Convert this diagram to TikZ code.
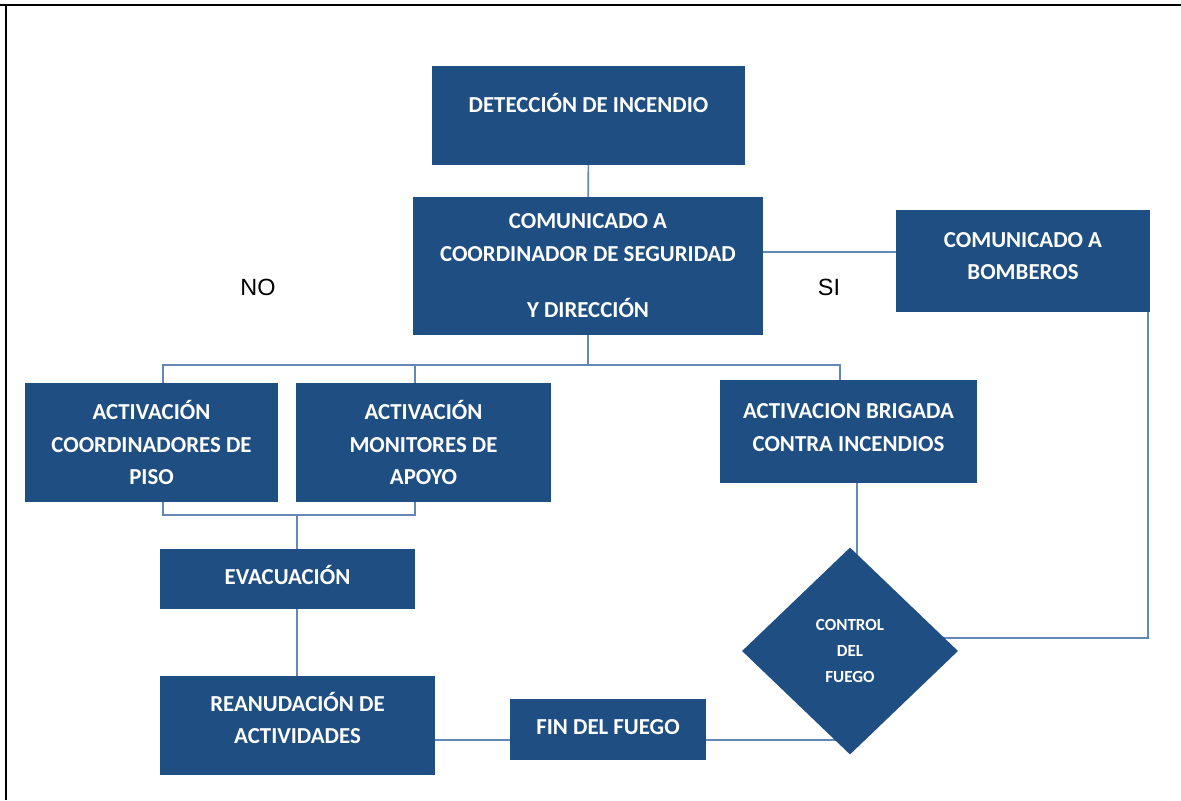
\documentclass[tikz,border=0pt]{standalone}
\usepackage{fontspec}
\setmainfont{Carlito}
\newfontfamily\arialfont{Liberation Sans}
\usetikzlibrary{shapes.geometric,backgrounds}
\definecolor{boxblue}{RGB}{30,78,130}
\definecolor{lineblue}{RGB}{100,135,182}

\begin{document}
\begin{tikzpicture}[
  x=0.03cm, y=-0.03cm,
  box/.style={rectangle, fill=boxblue, text=white, align=center, inner sep=0pt,
    font=\fontsize{19.5}{28}\selectfont\bfseries},
  decision/.style={diamond, fill=boxblue, text=white, align=center, inner sep=0pt,
    font=\fontsize{14.5}{22}\selectfont\bfseries},
  conn/.style={lineblue, line width=1.4pt},
  answer/.style={font=\fontsize{20}{24}\selectfont\arialfont},
]
\useasboundingbox (0,0) rectangle (1181,800);
\draw[line width=2.4pt] (0,5) -- (1181,5);
\draw[line width=1.2pt] (6,5) -- (6,800);

\node (det) [box, minimum width=9.39cm, minimum height=2.97cm] at (588.5,115.5)
  {DETECCIÓN DE INCENDIO\\[-6.8pt]\mbox{}};
\node (com) [box, minimum width=10.5cm, minimum height=4.14cm] at (588,266)
  {COMUNICADO A\\COORDINADOR DE SEGURIDAD\\[20pt]Y DIRECCIÓN};
\node (bomb) [box, minimum width=7.62cm, minimum height=3.06cm] at (1023,261)
  {COMUNICADO A\\BOMBEROS\\[-19.5pt]\mbox{}};
\node (coord) [box, minimum width=7.59cm, minimum height=3.57cm] at (151.5,442.5)
  {ACTIVACIÓN\\COORDINADORES DE\\PISO};
\node (mon) [box, minimum width=7.65cm, minimum height=3.57cm] at (423.5,442.5)
  {ACTIVACIÓN\\MONITORES DE\\APOYO};
\node (brig) [box, minimum width=7.71cm, minimum height=3.09cm] at (848.5,431.5)
  {ACTIVACION BRIGADA\\CONTRA INCENDIOS\\[-21pt]\mbox{}};
\node (evac) [box, minimum width=7.65cm, minimum height=1.8cm] at (287.5,579)
  {EVACUACIÓN\\[-21pt]\mbox{}};
\node (rean) [box, minimum width=8.25cm, minimum height=2.97cm] at (297.5,725.5)
  {REANUDACIÓN DE\\ACTIVIDADES\\[-15pt]\mbox{}};
\node (fin) [box, minimum width=5.88cm, minimum height=1.83cm] at (608,729.5)
  {FIN DEL FUEGO\\[-23pt]\mbox{}};
\node (fuego) [decision, minimum width=6.48cm, minimum height=6.21cm] at (850,651)
  {CONTROL\\DEL\\FUEGO};

\node (no) [answer] at (258,287) {NO};
\node (si) [answer] at (829,287) {SI};

\begin{pgfonlayer}{background}
\draw[conn] (det) -- (com);
\draw[conn] (com.east |- 0,252) -- (bomb.west |- 0,252);
% reparto a las tres activaciones
\coordinate (bus) at (588,365);
\draw[conn] (com.south) -- (bus);
\draw[conn] ([xshift=11.5*0.03cm]coord.north) |- (bus) -| ([xshift=-8.5*0.03cm]brig.north);
\draw[conn] ([xshift=-8.5*0.03cm]mon.north) -- ([xshift=-8.5*0.03cm]mon.north |- bus);
% union hacia la evacuacion
\coordinate (join) at (297,515);
\draw[conn] ([xshift=11.5*0.03cm]coord.south) |- (join) -| ([xshift=-8.5*0.03cm]mon.south);
\draw[conn] (join) -- (join |- evac.north);
\draw[conn] (evac.south -| join) -- (rean.north -| join);
\draw[conn] (rean.east |- 0,740) -- (fin.west |- 0,740);
\draw[conn] (fin.east |- 0,740) -- (fuego.center |- 0,740);
\draw[conn] ([xshift=8.5*0.03cm]brig.south) -- ([xshift=8.5*0.03cm]brig.south |- fuego.center);
\draw[conn] ([xshift=-2*0.03cm]bomb.south east) |- ([yshift=13*0.03cm]fuego.center);
\end{pgfonlayer}
\end{tikzpicture}
\end{document}
